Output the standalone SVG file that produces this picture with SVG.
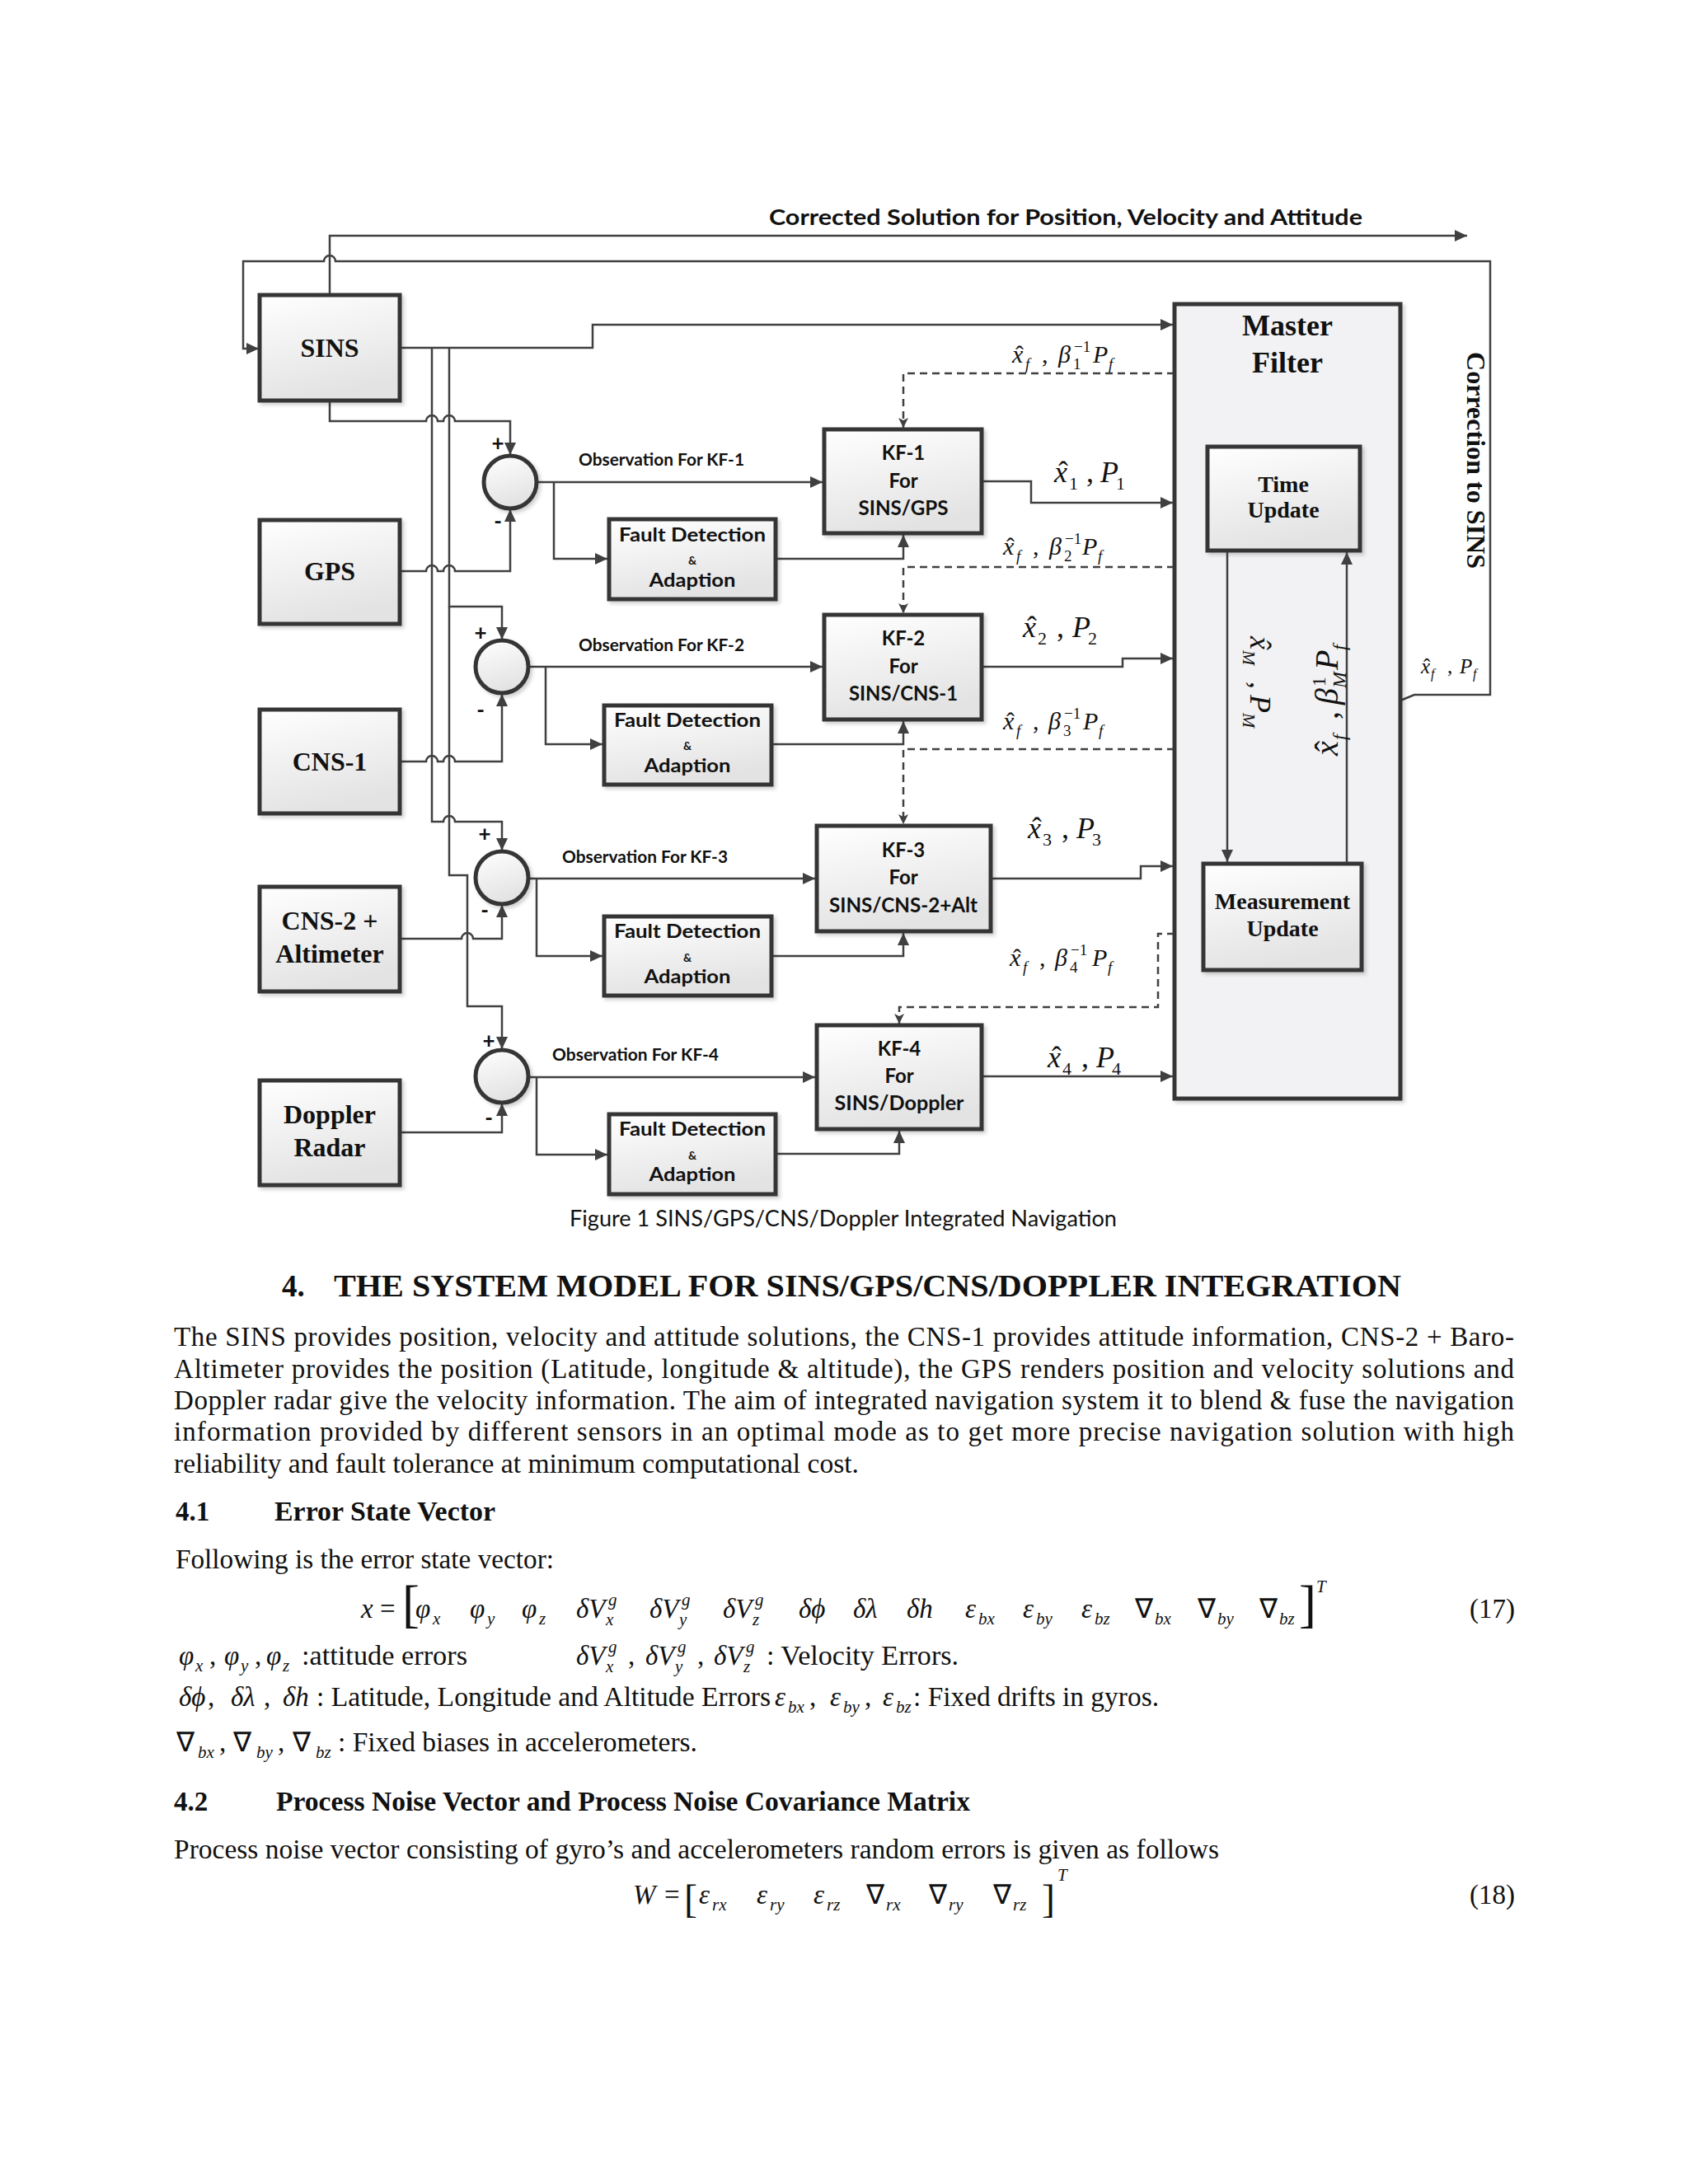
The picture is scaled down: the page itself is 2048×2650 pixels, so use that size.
<svg xmlns="http://www.w3.org/2000/svg" width="2048" height="2650" viewBox="0 0 2048 2650">
<style>
.ln{stroke:#404040;stroke-width:2.5;fill:none}
.dl{stroke:#404040;stroke-width:2.5;fill:none;stroke-dasharray:9 6}
.box{fill:url(#bg);stroke:#363636;stroke-width:5;filter:url(#sh)}
.mf{fill:#f2f2f4;stroke:#363636;stroke-width:5;filter:url(#sh)}
.cir{fill:url(#bg);stroke:#363636;stroke-width:5;filter:url(#sh)}
.tb{font-family:"Liberation Serif",serif;font-weight:bold;fill:#111;text-anchor:middle}
.tr{font-family:"Liberation Serif",serif;font-weight:bold;fill:#111;text-anchor:start}
.cb{font-family:Lato,"Liberation Sans",sans-serif;font-weight:bold;fill:#111}
.cc{font-family:Lato,"Liberation Sans",sans-serif;font-weight:bold;fill:#111;text-anchor:middle}
.m{font-family:"Liberation Serif",serif;font-style:italic;fill:#111}
.n{font-style:normal}
.body{font-family:"Liberation Serif",serif;font-size:33px;fill:#111}
.hd{font-family:"Liberation Serif",serif;font-weight:bold;fill:#111}
</style>
<defs>
<linearGradient id="bg" x1="0" y1="0" x2="0.3" y2="1">
<stop offset="0" stop-color="#ffffff"/>
<stop offset="1" stop-color="#e3e3e3"/>
</linearGradient>
<filter id="sh" x="-10%" y="-10%" width="130%" height="130%">
<feDropShadow dx="3" dy="3" stdDeviation="2" flood-color="#000" flood-opacity="0.18"/>
</filter>
<marker id="ah" markerUnits="userSpaceOnUse" markerWidth="16" markerHeight="14" refX="15" refY="7" orient="auto">
<path d="M0,0 L15,7 L0,14 z" fill="#404040"/>
</marker>
<marker id="ad" markerUnits="userSpaceOnUse" markerWidth="13" markerHeight="12" refX="12" refY="6" orient="auto">
<path d="M0,0 L12,6 L0,12 L3,6 z" fill="#404040"/>
</marker>
</defs>
<rect width="2048" height="2650" fill="#ffffff"/>

<g id="connectors">
<path class="ln" d="M400,358 V286 H1780" marker-end="url(#ah)"/>
<path class="ln" d="M1699,850 L1716,843 H1808 V317 H407 A7,7 0 0 0 393,317 H295 V423 H314" marker-end="url(#ah)"/>
<path class="ln" d="M485,422 H719 V394 H1423" marker-end="url(#ah)"/>
<path class="ln" d="M524,422 V997 H538 A7,7 0 0 1 552,997 H609 V1032" marker-end="url(#ah)"/>
<path class="ln" d="M545,422 V736 H609 V776" marker-end="url(#ah)"/>
<path class="ln" d="M545,736 V1062 H567 V1221 H609 V1273" marker-end="url(#ah)"/>
<path class="ln" d="M400,486 V511 H517 A7,7 0 0 1 531,511 H538 A7,7 0 0 1 552,511 H619 V552" marker-end="url(#ah)"/>
<path class="ln" d="M485,693 H517 A7,7 0 0 1 531,693 H538 A7,7 0 0 1 552,693 H619 V618" marker-end="url(#ah)"/>
<path class="ln" d="M485,924 H517 A7,7 0 0 1 531,924 H538 A7,7 0 0 1 552,924 H609 V842" marker-end="url(#ah)"/>
<path class="ln" d="M485,1139 H560 A7,7 0 0 1 574,1139 H609 V1098" marker-end="url(#ah)"/>
<path class="ln" d="M485,1374 H609 V1339" marker-end="url(#ah)"/>
<path class="ln" d="M651,585 H998" marker-end="url(#ah)"/>
<path class="ln" d="M672,585 V678 H737" marker-end="url(#ah)"/>
<path class="ln" d="M941,678 H1096 V649" marker-end="url(#ah)"/>
<path class="ln" d="M641,809 H998" marker-end="url(#ah)"/>
<path class="ln" d="M662,809 V903 H731" marker-end="url(#ah)"/>
<path class="ln" d="M936,903 H1096 V875" marker-end="url(#ah)"/>
<path class="ln" d="M641,1066 H989" marker-end="url(#ah)"/>
<path class="ln" d="M651,1066 V1160 H731" marker-end="url(#ah)"/>
<path class="ln" d="M936,1160 H1096 V1132" marker-end="url(#ah)"/>
<path class="ln" d="M641,1307 H989" marker-end="url(#ah)"/>
<path class="ln" d="M651,1307 V1401 H737" marker-end="url(#ah)"/>
<path class="ln" d="M941,1400 H1091 V1372" marker-end="url(#ah)"/>
<path class="ln" d="M1191,584 H1251 V610 H1423" marker-end="url(#ah)"/>
<path class="ln" d="M1191,809 H1362 V799 H1423" marker-end="url(#ah)"/>
<path class="ln" d="M1202,1066 H1384 V1051 H1423" marker-end="url(#ah)"/>
<path class="ln" d="M1191,1306 H1423" marker-end="url(#ah)"/>
<path class="dl" d="M1425,453 H1096 V519" marker-end="url(#ad)"/>
<path class="dl" d="M1425,688 H1096 V744" marker-end="url(#ad)"/>
<path class="dl" d="M1425,909 H1096 V1000" marker-end="url(#ad)"/>
<path class="dl" d="M1425,1133 H1405 V1222 H1091 V1242" marker-end="url(#ad)"/>
</g>

<text class="cb" x="933" y="273" font-size="27" textLength="720" lengthAdjust="spacingAndGlyphs">Corrected Solution for Position, Velocity and Attitude</text>

<g id="sins"><rect class="box" x="315" y="358" width="170" height="128"/><text class="tb" x="400" y="433" font-size="32">SINS</text></g>
<g id="gps"><rect class="box" x="315" y="631" width="170" height="126"/><text class="tb" x="400" y="704" font-size="32">GPS</text></g>
<g id="cns1"><rect class="box" x="315" y="861" width="170" height="126"/><text class="tb" x="400" y="935" font-size="32">CNS-1</text></g>
<g id="cns2"><rect class="box" x="315" y="1076" width="170" height="127"/><text class="tb" x="400" y="1128" font-size="32">CNS-2 +</text><text class="tb" x="400" y="1168" font-size="32">Altimeter</text></g>
<g id="doppler"><rect class="box" x="315" y="1311" width="170" height="127"/><text class="tb" x="400" y="1363" font-size="32">Doppler</text><text class="tb" x="400" y="1403" font-size="32">Radar</text></g>

<g id="sum1"><circle class="cir" cx="619" cy="585" r="32"/><text class="cc" x="604" y="547" font-size="26">+</text><text class="cc" x="604" y="642" font-size="26">-</text></g>
<g id="sum2"><circle class="cir" cx="609" cy="809" r="32"/><text class="cc" x="583" y="777" font-size="26">+</text><text class="cc" x="583" y="871" font-size="26">-</text></g>
<g id="sum3"><circle class="cir" cx="609" cy="1065" r="32"/><text class="cc" x="588" y="1021" font-size="26">+</text><text class="cc" x="588" y="1114" font-size="26">-</text></g>
<g id="sum4"><circle class="cir" cx="609" cy="1306" r="32"/><text class="cc" x="593" y="1272" font-size="26">+</text><text class="cc" x="593" y="1366" font-size="26">-</text></g>

<g id="obs-labels">
<text class="cb" x="702" y="565" font-size="21" textLength="201" lengthAdjust="spacingAndGlyphs">Observation For KF-1</text>
<text class="cb" x="702" y="790" font-size="21" textLength="201" lengthAdjust="spacingAndGlyphs">Observation For KF-2</text>
<text class="cb" x="682" y="1047" font-size="21" textLength="201" lengthAdjust="spacingAndGlyphs">Observation For KF-3</text>
<text class="cb" x="670" y="1287" font-size="21" textLength="202" lengthAdjust="spacingAndGlyphs">Observation For KF-4</text>
</g>

<g id="fd1"><rect class="box" x="739" y="630" width="202" height="97"/><text class="cc" x="840" y="657" font-size="22" textLength="178" lengthAdjust="spacingAndGlyphs">Fault Detection</text><text class="cc" x="840" y="685" font-size="14">&amp;</text><text class="cc" x="840" y="712" font-size="22" textLength="105" lengthAdjust="spacingAndGlyphs">Adaption</text></g>
<g id="fd2"><rect class="box" x="733" y="856" width="203" height="96"/><text class="cc" x="834" y="882" font-size="22" textLength="178" lengthAdjust="spacingAndGlyphs">Fault Detection</text><text class="cc" x="834" y="910" font-size="14">&amp;</text><text class="cc" x="834" y="937" font-size="22" textLength="105" lengthAdjust="spacingAndGlyphs">Adaption</text></g>
<g id="fd3"><rect class="box" x="733" y="1112" width="203" height="96"/><text class="cc" x="834" y="1138" font-size="22" textLength="178" lengthAdjust="spacingAndGlyphs">Fault Detection</text><text class="cc" x="834" y="1167" font-size="14">&amp;</text><text class="cc" x="834" y="1193" font-size="22" textLength="105" lengthAdjust="spacingAndGlyphs">Adaption</text></g>
<g id="fd4"><rect class="box" x="739" y="1352" width="202" height="97"/><text class="cc" x="840" y="1378" font-size="22" textLength="178" lengthAdjust="spacingAndGlyphs">Fault Detection</text><text class="cc" x="840" y="1407" font-size="14">&amp;</text><text class="cc" x="840" y="1433" font-size="22" textLength="105" lengthAdjust="spacingAndGlyphs">Adaption</text></g>

<g id="kf1"><rect class="box" x="1000" y="521" width="191" height="126"/><text class="cc" x="1096" y="558" font-size="24">KF-1</text><text class="cc" x="1096" y="592" font-size="24">For</text><text class="cc" x="1096" y="625" font-size="24" textLength="109" lengthAdjust="spacingAndGlyphs">SINS/GPS</text></g>
<g id="kf2"><rect class="box" x="1000" y="746" width="191" height="127"/><text class="cc" x="1096" y="783" font-size="24">KF-2</text><text class="cc" x="1096" y="817" font-size="24">For</text><text class="cc" x="1096" y="850" font-size="24" textLength="132" lengthAdjust="spacingAndGlyphs">SINS/CNS-1</text></g>
<g id="kf3"><rect class="box" x="991" y="1002" width="211" height="128"/><text class="cc" x="1096" y="1040" font-size="24">KF-3</text><text class="cc" x="1096" y="1073" font-size="24">For</text><text class="cc" x="1096" y="1107" font-size="24" textLength="180" lengthAdjust="spacingAndGlyphs">SINS/CNS-2+Alt</text></g>
<g id="kf4"><rect class="box" x="991" y="1244" width="200" height="126"/><text class="cc" x="1091" y="1281" font-size="24">KF-4</text><text class="cc" x="1091" y="1314" font-size="24">For</text><text class="cc" x="1091" y="1347" font-size="24" textLength="157" lengthAdjust="spacingAndGlyphs">SINS/Doppler</text></g>

<g id="master-filter">
<rect class="mf" x="1425" y="369" width="274" height="964"/>
<text class="tb" x="1562" y="407" font-size="36">Master</text>
<text class="tb" x="1562" y="452" font-size="36">Filter</text>
</g>
<g id="time-update"><rect class="box" x="1465" y="542" width="185" height="126"/><text class="tb" x="1557" y="597" font-size="28">Time</text><text class="tb" x="1557" y="628" font-size="28">Update</text></g>
<g id="measurement-update"><rect class="box" x="1460" y="1048" width="192" height="129"/><text class="tb" x="1556" y="1103" font-size="28">Measurement</text><text class="tb" x="1556" y="1136" font-size="28">Update</text></g>
<g id="mf-connectors">
<path class="ln" d="M1489,670 V1046" marker-end="url(#ah)"/>
<path class="ln" d="M1634,1046 V670" marker-end="url(#ah)"/>
</g>

<text class="tr" transform="translate(1780,427) rotate(90)" x="0" y="0" font-size="32" textLength="263" lengthAdjust="spacingAndGlyphs">Correction to SINS</text>

<g id="math-labels">
<text class="m" font-size="30"><tspan x="1228" y="440">x</tspan><tspan class="n" x="1232" y="440">ˆ</tspan><tspan x="1244" y="448" font-size="19">f</tspan><tspan class="n" x="1264" y="440">,</tspan><tspan x="1284" y="440">β</tspan><tspan class="n" x="1302" y="448" font-size="19">1</tspan><tspan class="n" x="1303" y="427" font-size="19">−1</tspan><tspan x="1326" y="440">P</tspan><tspan x="1345" y="448" font-size="19">f</tspan></text>
<text class="m" font-size="30"><tspan x="1217" y="673">x</tspan><tspan class="n" x="1221" y="673">ˆ</tspan><tspan x="1233" y="681" font-size="19">f</tspan><tspan class="n" x="1253" y="673">,</tspan><tspan x="1273" y="673">β</tspan><tspan class="n" x="1291" y="681" font-size="19">2</tspan><tspan class="n" x="1292" y="660" font-size="19">−1</tspan><tspan x="1313" y="673">P</tspan><tspan x="1332" y="681" font-size="19">f</tspan></text>
<text class="m" font-size="30"><tspan x="1217" y="885">x</tspan><tspan class="n" x="1221" y="885">ˆ</tspan><tspan x="1233" y="893" font-size="19">f</tspan><tspan class="n" x="1253" y="885">,</tspan><tspan x="1272" y="885">β</tspan><tspan class="n" x="1290" y="893" font-size="19">3</tspan><tspan class="n" x="1291" y="872" font-size="19">−1</tspan><tspan x="1314" y="885">P</tspan><tspan x="1333" y="893" font-size="19">f</tspan></text>
<text class="m" font-size="30"><tspan x="1225" y="1172">x</tspan><tspan class="n" x="1229" y="1172">ˆ</tspan><tspan x="1241" y="1180" font-size="19">f</tspan><tspan class="n" x="1261" y="1172">,</tspan><tspan x="1280" y="1172">β</tspan><tspan class="n" x="1298" y="1180" font-size="19">4</tspan><tspan class="n" x="1299" y="1159" font-size="19">−1</tspan><tspan x="1325" y="1172">P</tspan><tspan x="1344" y="1180" font-size="19">f</tspan></text>
<text class="m" font-size="36"><tspan x="1279" y="585">x</tspan><tspan class="n" x="1284" y="585">ˆ</tspan><tspan class="n" x="1297" y="594" font-size="22">1</tspan><tspan class="n" x="1318" y="585">,</tspan><tspan x="1335" y="585">P</tspan><tspan class="n" x="1354" y="594" font-size="22">1</tspan></text>
<text class="m" font-size="36"><tspan x="1241" y="773">x</tspan><tspan class="n" x="1246" y="773">ˆ</tspan><tspan class="n" x="1259" y="782" font-size="22">2</tspan><tspan class="n" x="1282" y="773">,</tspan><tspan x="1301" y="773">P</tspan><tspan class="n" x="1320" y="782" font-size="22">2</tspan></text>
<text class="m" font-size="36"><tspan x="1247" y="1017">x</tspan><tspan class="n" x="1252" y="1017">ˆ</tspan><tspan class="n" x="1265" y="1026" font-size="22">3</tspan><tspan class="n" x="1288" y="1017">,</tspan><tspan x="1306" y="1017">P</tspan><tspan class="n" x="1325" y="1026" font-size="22">3</tspan></text>
<text class="m" font-size="36"><tspan x="1271" y="1295">x</tspan><tspan class="n" x="1276" y="1295">ˆ</tspan><tspan class="n" x="1289" y="1304" font-size="22">4</tspan><tspan class="n" x="1312" y="1295">,</tspan><tspan x="1330" y="1295">P</tspan><tspan class="n" x="1349" y="1304" font-size="22">4</tspan></text>
<text class="m" font-size="25"><tspan x="1724" y="817">x</tspan><tspan class="n" x="1727" y="817">ˆ</tspan><tspan x="1736" y="823" font-size="16">f</tspan><tspan class="n" x="1756" y="817">,</tspan><tspan x="1771" y="817">P</tspan><tspan x="1787" y="823" font-size="16">f</tspan></text>
<text class="m" font-size="36" transform="translate(1517,772) rotate(90)"><tspan x="0" y="0">x</tspan><tspan class="n" x="5" y="0">ˆ</tspan><tspan x="17" y="9" font-size="22">M</tspan><tspan class="n" x="55" y="0">,</tspan><tspan x="71" y="0">P</tspan><tspan x="93" y="9" font-size="22">M</tspan></text>
<text class="m" font-size="40" transform="translate(1623,917) rotate(-90)"><tspan x="0" y="0">x</tspan><tspan class="n" x="5" y="0">ˆ</tspan><tspan x="19" y="10" font-size="24">f</tspan><tspan class="n" x="44" y="0">,</tspan><tspan x="62" y="0">β</tspan><tspan x="82" y="10" font-size="24">M</tspan><tspan class="n" x="84" y="-15" font-size="24">1</tspan><tspan x="104" y="0">P</tspan><tspan x="128" y="10" font-size="24">f</tspan></text>
</g>

<text font-family="Lato, 'Liberation Sans', sans-serif" font-size="26" fill="#111" x="691" y="1488" textLength="664" lengthAdjust="spacingAndGlyphs">Figure 1 SINS/GPS/CNS/Doppler Integrated Navigation</text>

<g id="body-text">
<text class="hd" font-size="37" x="342" y="1573">4.</text>
<text class="hd" font-size="37" x="405" y="1573" textLength="1295" lengthAdjust="spacingAndGlyphs">THE SYSTEM MODEL FOR SINS/GPS/CNS/DOPPLER INTEGRATION</text>
<text class="body" x="211" y="1633" textLength="1626" lengthAdjust="spacing">The SINS provides position, velocity and attitude solutions, the CNS-1 provides attitude information, CNS-2 + Baro-</text>
<text class="body" x="211" y="1672" textLength="1626" lengthAdjust="spacing">Altimeter provides the position (Latitude, longitude &amp; altitude), the GPS renders position and velocity solutions and</text>
<text class="body" x="211" y="1710" textLength="1626" lengthAdjust="spacing">Doppler radar give the velocity information. The aim of integrated navigation system it to blend &amp; fuse the navigation</text>
<text class="body" x="211" y="1748" textLength="1626" lengthAdjust="spacing">information provided by different sensors in an optimal mode as to get more precise navigation solution with high</text>
<text class="body" x="211" y="1787" textLength="831" lengthAdjust="spacingAndGlyphs">reliability and fault tolerance at minimum computational cost.</text>

<text class="hd" font-size="33" x="213" y="1845">4.1</text>
<text class="hd" font-size="33" x="333" y="1845" textLength="268" lengthAdjust="spacingAndGlyphs">Error State Vector</text>
<text class="body" x="213" y="1903" textLength="459" lengthAdjust="spacingAndGlyphs">Following is the error state vector:</text>

<text class="m" font-size="33"><tspan x="438" y="1963">x</tspan><tspan class="n" x="461" y="1963">=</tspan><tspan x="504" y="1963">φ</tspan><tspan x="525" y="1971" font-size="21">x</tspan><tspan x="570" y="1963">φ</tspan><tspan x="591" y="1971" font-size="21">y</tspan><tspan x="633" y="1963">φ</tspan><tspan x="654" y="1971" font-size="21">z</tspan><tspan x="699" y="1963">δV</tspan><tspan x="735" y="1972" font-size="21">x</tspan><tspan x="738" y="1948" font-size="21">g</tspan><tspan x="788" y="1963">δV</tspan><tspan x="824" y="1972" font-size="21">y</tspan><tspan x="827" y="1948" font-size="21">g</tspan><tspan x="877" y="1963">δV</tspan><tspan x="913" y="1972" font-size="21">z</tspan><tspan x="916" y="1948" font-size="21">g</tspan><tspan x="969" y="1963">δϕ</tspan><tspan x="1035" y="1963">δλ</tspan><tspan x="1100" y="1963">δh</tspan><tspan x="1171" y="1963">ε</tspan><tspan x="1187" y="1971" font-size="21">bx</tspan><tspan x="1241" y="1963">ε</tspan><tspan x="1257" y="1971" font-size="21">by</tspan><tspan x="1312" y="1963">ε</tspan><tspan x="1328" y="1971" font-size="21">bz</tspan><tspan class="n" x="1377" y="1963">∇</tspan><tspan x="1401" y="1971" font-size="21">bx</tspan><tspan class="n" x="1453" y="1963">∇</tspan><tspan x="1477" y="1971" font-size="21">by</tspan><tspan class="n" x="1528" y="1963">∇</tspan><tspan x="1552" y="1971" font-size="21">bz</tspan><tspan x="1597" y="1932" font-size="21">T</tspan></text>
<text font-family="'Liberation Serif', serif" font-size="63" fill="#111" x="488" y="1967">[</text>
<text font-family="'Liberation Serif', serif" font-size="63" fill="#111" x="1576" y="1967">]</text>
<text class="body" x="1783" y="1963">(17)</text>

<text class="m" font-size="33"><tspan x="217" y="2020">φ</tspan><tspan x="237" y="2028" font-size="21">x</tspan><tspan class="n" x="254" y="2020">,</tspan><tspan x="272" y="2020">φ</tspan><tspan x="292" y="2028" font-size="21">y</tspan><tspan class="n" x="309" y="2020">,</tspan><tspan x="323" y="2020">φ</tspan><tspan x="343" y="2028" font-size="21">z</tspan></text>
<text class="body" x="366" y="2020" textLength="201" lengthAdjust="spacingAndGlyphs">:attitude errors</text>
<text class="m" font-size="33"><tspan x="699" y="2020">δV</tspan><tspan x="735" y="2029" font-size="21">x</tspan><tspan x="738" y="2005" font-size="21">g</tspan><tspan class="n" x="762" y="2020">,</tspan><tspan x="783" y="2020">δV</tspan><tspan x="819" y="2029" font-size="21">y</tspan><tspan x="822" y="2005" font-size="21">g</tspan><tspan class="n" x="846" y="2020">,</tspan><tspan x="866" y="2020">δV</tspan><tspan x="902" y="2029" font-size="21">z</tspan><tspan x="905" y="2005" font-size="21">g</tspan></text>
<text class="body" x="930" y="2020" textLength="233" lengthAdjust="spacingAndGlyphs">: Velocity Errors.</text>

<text class="m" font-size="33"><tspan x="217" y="2070">δϕ</tspan><tspan class="n" x="252" y="2070">,</tspan><tspan x="280" y="2070">δλ</tspan><tspan class="n" x="320" y="2070">,</tspan><tspan x="343" y="2070">δh</tspan></text>
<text class="body" x="384" y="2070" textLength="551" lengthAdjust="spacingAndGlyphs">: Latitude, Longitude and Altitude Errors</text>
<text class="m" font-size="33"><tspan x="940" y="2070">ε</tspan><tspan x="956" y="2078" font-size="21">bx</tspan><tspan class="n" x="982" y="2070">,</tspan><tspan x="1007" y="2070">ε</tspan><tspan x="1023" y="2078" font-size="21">by</tspan><tspan class="n" x="1049" y="2070">,</tspan><tspan x="1071" y="2070">ε</tspan><tspan x="1087" y="2078" font-size="21">bz</tspan></text>
<text class="body" x="1108" y="2070" textLength="298" lengthAdjust="spacingAndGlyphs">: Fixed drifts in gyros.</text>

<text class="m" font-size="33"><tspan class="n" x="214" y="2125">∇</tspan><tspan x="240" y="2133" font-size="21">bx</tspan><tspan class="n" x="266" y="2125">,</tspan><tspan class="n" x="283" y="2125">∇</tspan><tspan x="311" y="2133" font-size="21">by</tspan><tspan class="n" x="337" y="2125">,</tspan><tspan class="n" x="355" y="2125">∇</tspan><tspan x="383" y="2133" font-size="21">bz</tspan></text>
<text class="body" x="410" y="2125" textLength="436" lengthAdjust="spacingAndGlyphs">: Fixed biases in accelerometers.</text>

<text class="hd" font-size="33" x="211" y="2197">4.2</text>
<text class="hd" font-size="33" x="335" y="2197" textLength="842" lengthAdjust="spacingAndGlyphs">Process Noise Vector and Process Noise Covariance Matrix</text>
<text class="body" x="211" y="2255" textLength="1268" lengthAdjust="spacingAndGlyphs">Process noise vector consisting of gyro’s and accelerometers random errors is given as follows</text>

<text class="m" font-size="33"><tspan x="768" y="2310">W</tspan><tspan class="n" x="806" y="2310">=</tspan><tspan x="848" y="2310">ε</tspan><tspan x="864" y="2318" font-size="21">rx</tspan><tspan x="918" y="2310">ε</tspan><tspan x="934" y="2318" font-size="21">ry</tspan><tspan x="987" y="2310">ε</tspan><tspan x="1003" y="2318" font-size="21">rz</tspan><tspan class="n" x="1051" y="2310">∇</tspan><tspan x="1075" y="2318" font-size="21">rx</tspan><tspan class="n" x="1127" y="2310">∇</tspan><tspan x="1151" y="2318" font-size="21">ry</tspan><tspan class="n" x="1205" y="2310">∇</tspan><tspan x="1229" y="2318" font-size="21">rz</tspan><tspan x="1283" y="2282" font-size="21">T</tspan></text>
<text font-family="'Liberation Serif', serif" font-size="48" fill="#111" x="830" y="2320">[</text>
<text font-family="'Liberation Serif', serif" font-size="48" fill="#111" x="1264" y="2320">]</text>
<text class="body" x="1783" y="2310">(18)</text>
</g>
</svg>
